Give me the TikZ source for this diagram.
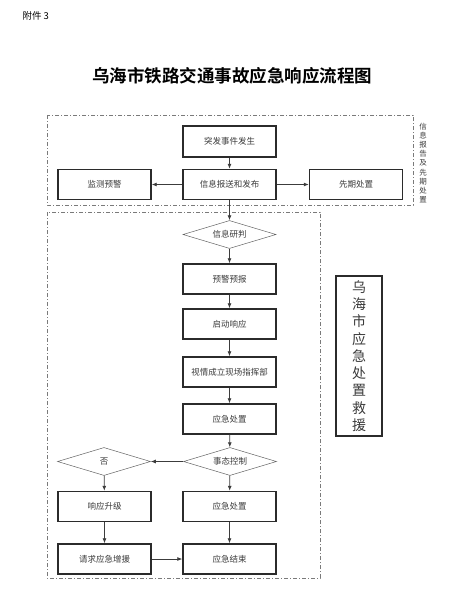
\documentclass[tikz,border=0pt]{standalone}
\usepackage{fontspec}
\usepackage{xcolor}
\usepackage{tikz}
\usetikzlibrary{arrows.meta,positioning,shapes.geometric}
\newfontfamily\cjk{Noto Sans CJK SC}
\newfontfamily\cjkbold{Noto Sans CJK SC Bold}
\definecolor{boxline}{HTML}{2B2B2B}
\definecolor{flowline}{HTML}{3C3C3C}
\definecolor{frameline}{HTML}{7A7A7A}
\definecolor{boxtext}{HTML}{3A3A3A}

\begin{document}
\begin{tikzpicture}[x=1pt, y=-1pt,
    stepbox/.style={draw=boxline, line width=1.4pt, minimum width=93pt, minimum height=30pt,
        inner sep=0pt, font=\cjk\fontsize{8.5}{10}\selectfont, text=boxtext},
    decision/.style={diamond, draw=flowline!80, line width=0.5pt, aspect=3.3, inner sep=0pt,
        minimum width=93pt, minimum height=28pt, font=\cjk\fontsize{8.5}{10}\selectfont, text=boxtext},
    flow/.style={draw=flowline, line width=0.8pt, -{Latex[length=5pt,width=4pt]}},
    groupframe/.style={draw=frameline, line width=0.6pt, dash pattern=on 4pt off 2pt on 1pt off 2pt}]
    \useasboundingbox (0,0) rectangle (465,599);
    % Header and title
    \node[anchor=west, font=\cjk\fontsize{9.5}{11}\selectfont] (fujian) at (19,16) {附件 3};
    \node[font=\cjkbold\fontsize{17.5}{20}\selectfont] (title) at (232,76) {乌海市铁路交通事故应急响应流程图};
    % Group frames
    \draw[groupframe] (47,115) rectangle (413,205);
    \draw[groupframe] (47,212) rectangle (320,578);
    \node[align=center, font=\cjk\fontsize{7.5}{9.1}\selectfont, text=boxtext] (baogao) at (423,163)
        {信\\息\\报\\告\\及\\先\\期\\处\\置};
    % Information report and first response
    \node[stepbox, minimum height=31pt] (tufa) at (229.5,141.5) {突发事件发生};
    \node[stepbox] (baosong) at (229.5,184.5) {信息报送和发布};
    \node[stepbox] (jiance) at (104.5,184.5) {监测预警};
    \node[stepbox] (xianqi) at (356,184.5) {先期处置};
    % Emergency handling
    \node[decision] (yanpan) at (229.5,234.5) {信息研判};
    \node[stepbox] (yujing) at (229.5,279) {预警预报};
    \node[stepbox] (qidong) at (229.5,324) {启动响应};
    \node[stepbox] (zhihui) at (229.5,372) {视情成立现场指挥部};
    \node[stepbox] (chuzhi) at (229.5,419) {应急处置};
    \node[decision] (taishi) at (230,461.5) {事态控制};
    \node[decision] (fou) at (104,461.5) {否};
    \node[stepbox] (shengji) at (104.5,506.5) {响应升级};
    \node[stepbox] (chuzhib) at (229.5,506.5) {应急处置};
    \node[stepbox] (qingqiu) at (104.5,559) {请求应急增援};
    \node[stepbox] (jieshu) at (229.5,559) {应急结束};
    % Side label
    \node[draw=boxline, line width=1.2pt, minimum width=46pt, minimum height=160pt, inner sep=0pt,
        align=center, font=\cjk\fontsize{14}{17.3}\selectfont, text=boxtext] (jiuyuan) at (359,356)
        {乌\\海\\市\\应\\急\\处\\置\\救\\援};
    % Connectors
    \draw[flow] (tufa) -- (baosong);
    \draw[flow] (baosong) -- (jiance);
    \draw[flow] (baosong) -- (xianqi);
    \draw[flow] (baosong) -- (yanpan);
    \draw[flow] (yanpan) -- (yujing);
    \draw[flow] (yujing) -- (qidong);
    \draw[flow] (qidong) -- (zhihui);
    \draw[flow] (zhihui) -- (chuzhi);
    \draw[flow] (chuzhi) -- (taishi);
    \draw[flow] (taishi.west) -- (fou.east);
    \draw[flow] (taishi) -- (chuzhib);
    \draw[flow] (fou) -- (shengji);
    \draw[flow] (shengji) -- (qingqiu);
    \draw[flow] (chuzhib) -- (jieshu);
    \draw[flow] (qingqiu) -- (jieshu);
\end{tikzpicture}
\end{document}
